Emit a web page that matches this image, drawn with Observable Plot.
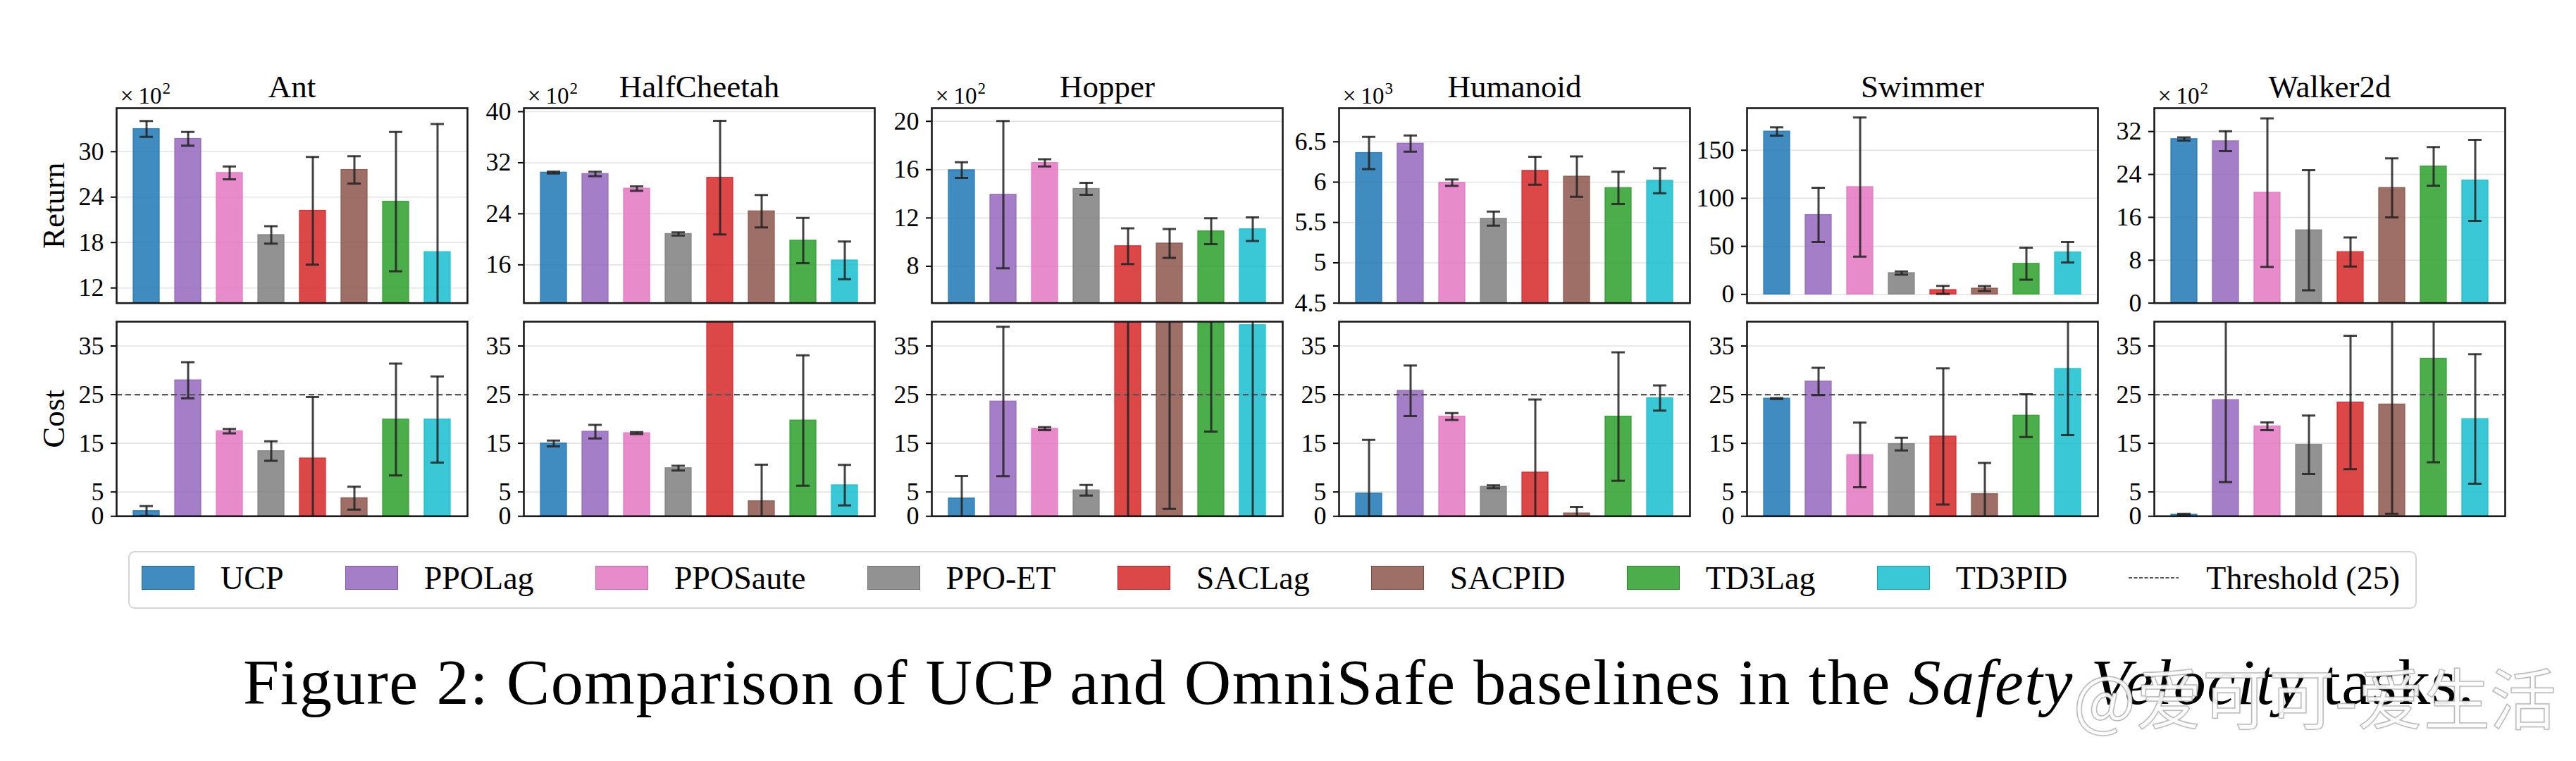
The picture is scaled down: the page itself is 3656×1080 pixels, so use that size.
<!DOCTYPE html>
<html>
<head>
<meta charset="utf-8">
<script src="https://cdn.jsdelivr.net/npm/d3@7"></script>
<script src="https://cdn.jsdelivr.net/npm/@observablehq/plot@0.6"></script>
<style>
  html, body { margin: 0; padding: 0; background: #fff; }
  #fig { position: relative; width: 3656px; height: 1080px; background: #fff; overflow: hidden; font-family: "Liberation Serif", serif; color: #000; }
  .panel { position: absolute; }
  .panel svg { overflow: visible; max-width: none; }
  #legend { position: absolute; box-sizing: border-box; border: 2px solid #d4d4d4; border-radius: 9px;
            display: flex; align-items: center; justify-content: space-between; padding: 0 22px 6px 17px; font-size: 46px; }
  .item { display: flex; align-items: center; gap: 37px; white-space: nowrap; }
  .sw { width: 75px; height: 34px; box-sizing: border-box; }
  #caption { position: absolute; left: 345px; top: 922px; font-size: 92px; letter-spacing: 1.6px; line-height: 1; white-space: nowrap; }
  #wm { position: absolute; right: 28px; top: 940px; font-family: "Noto Sans CJK SC", sans-serif; font-size: 94px; line-height: 1;
        color: rgba(255,255,255,0.92); -webkit-text-stroke: 1.5px rgba(140,140,140,0.55); text-shadow: 0 0 3px rgba(0,0,0,0.18); white-space: nowrap; }
</style>
</head>
<body>
<div id="fig"></div>
<script>
// ---------------- data ----------------
const methods = ["UCP", "PPOLag", "PPOSaute", "PPO-ET", "SACLag", "SACPID", "TD3Lag", "TD3PID"];
const colors  = ["#1f77b4", "#9467bd", "#e377c2", "#7f7f7f", "#d62728", "#8c564b", "#2ca02c", "#17becf"];
const envs    = ["Ant", "HalfCheetah", "Hopper", "Humanoid", "Swimmer", "Walker2d"];
const returnExponent = [2, 2, 2, 3, null, 2];   // axis multiplier ×10^n (none for Swimmer)

// Return (in the units shown on each axis)
const returnMean = [
  [33.0, 31.7, 27.2, 19.0, 22.2, 27.6, 23.4, 16.75],
  [30.47, 30.24, 27.95, 20.85, 29.65, 24.4, 19.8, 16.7],
  [15.96, 13.93, 16.56, 14.41, 9.67, 9.89, 10.9, 11.07],
  [6.362, 6.478, 5.993, 5.547, 6.141, 6.069, 5.928, 6.018],
  [169.5, 82.7, 111.7, 22.2, 4.6, 6.1, 31.9, 43.8],
  [30.6, 30.2, 20.6, 13.6, 9.54, 21.5, 25.5, 22.9]
];
const returnErr = [
  [1.05, 0.9, 0.85, 1.15, 7.1, 1.8, 9.2, 16.9],
  [0.15, 0.35, 0.35, 0.25, 8.9, 2.55, 3.55, 2.95],
  [0.65, 6.1, 0.3, 0.5, 1.48, 1.2, 1.07, 0.98],
  [0.2, 0.1, 0.04, 0.087, 0.174, 0.25, 0.2, 0.155],
  [4.3, 28.3, 72.4, 1.6, 4.2, 2.6, 16.7, 10.6],
  [0.3, 1.85, 13.85, 11.2, 2.7, 5.5, 3.6, 7.55]
];
const returnDomain = [[10, 35.75], [10, 40.55], [4.95, 21.09], [4.5, 6.917], [-9.1, 193.8], [0, 36.36]];
const returnTicks = [
  [12, 18, 24, 30],
  [16, 24, 32, 40],
  [8, 12, 16, 20],
  [4.5, 5, 5.5, 6, 6.5],
  [0, 50, 100, 150],
  [0, 8, 16, 24, 32]
];

// Cost
const costMean = [
  [1.08, 27.96, 17.5, 13.4, 11.9, 3.73, 19.9, 19.9],
  [14.97, 17.4, 17.1, 9.9, 70, 3.1, 19.7, 6.4],
  [3.67, 23.6, 18.0, 5.35, 55, 50, 45, 39.3],
  [4.69, 25.8, 20.5, 6.07, 9.0, 0.6, 20.5, 24.3],
  [24.2, 27.7, 12.6, 14.85, 16.4, 4.57, 20.7, 30.3],
  [0.36, 23.9, 18.5, 14.7, 23.4, 23.0, 32.4, 20.0]
];
const costErr = [
  [1.0, 3.7, 0.45, 2.0, 12.6, 2.35, 11.5, 8.85],
  [0.6, 1.4, 0.2, 0.5, 20, 7.5, 13.4, 4.15],
  [4.6, 15.35, 0.3, 1.1, 60, 48.5, 27.6, 45],
  [11.0, 5.2, 0.7, 0.3, 15.0, 1.3, 13.2, 2.6],
  [0.1, 2.8, 6.65, 1.3, 14.0, 6.4, 4.4, 13.6],
  [0.15, 16.9, 0.8, 6.0, 13.7, 22.5, 21.3, 13.3]
];
const costDomain = [0, 40];
const costTicks = [0, 5, 15, 25, 35];
const threshold = 25;
const thresholdLabel = "Threshold (25)";

// ---------------- layout ----------------
const FONT = "Liberation Serif";
const FW = 498, STEP = 578.4, LEFT0 = 165;
const ML = 120, MR = 10, MT = 60, MB = 28;
const rows = { ret: { top: 153.3, h: 276.7 }, cost: { top: 456, h: 276.2 } };

const fig = document.getElementById("fig");

function panel(i, kind) {
  const isRet = kind === "ret";
  const mean = isRet ? returnMean[i] : costMean[i];
  const err = isRet ? returnErr[i] : costErr[i];
  const data = methods.map((m, j) => ({ m, v: mean[j], lo: mean[j] - err[j], hi: mean[j] + err[j] }));
  const ticks = isRet ? returnTicks[i] : costTicks;
  const domain = isRet ? returnDomain[i] : costDomain;
  const FH = rows[kind].h;
  const ebar = { stroke: "#222", strokeOpacity: 0.85, strokeWidth: 3, clip: true };
  const marks = [
    Plot.gridY({ ticks, stroke: "#e3e3e3", strokeOpacity: 1, strokeWidth: 1.6 }),
    Plot.barY(data, { x: "m", y1: 0, y2: "v", fill: "m", fillOpacity: 0.85, stroke: "m", strokeOpacity: 0.9, strokeWidth: 1.3, clip: true }),
    !isRet ? Plot.ruleY([threshold], { stroke: "#555", strokeDasharray: "8,5", strokeWidth: 2.2 }) : null,
    Plot.ruleX(data, { x: "m", y1: "lo", y2: "hi", ...ebar }),
    Plot.tickY(data, { x: "m", y: "hi", insetLeft: 9, insetRight: 9, ...ebar }),
    Plot.tickY(data, { x: "m", y: "lo", insetLeft: 9, insetRight: 9, ...ebar }),
    Plot.axisY({ ticks, tickSize: 8, tickPadding: 10, tickFormat: d => String(d), strokeWidth: 2 }),
    Plot.frame({ stroke: "#1a1a1a", strokeWidth: 2.6 })
  ];
  if (isRet) {
    marks.push(Plot.text([envs[i]], { text: d => d, frameAnchor: "top", lineAnchor: "bottom", dy: -15, fontSize: 45 }));
    const e = returnExponent[i];
    if (e != null) {
      const base = { frameAnchor: "top-left", textAnchor: "start", lineAnchor: "bottom" };
      marks.push(Plot.text(["×"], { text: d => d, ...base, dx: 5, dy: -6.5, fontSize: 34 }));
      marks.push(Plot.text(["10"], { text: d => d, ...base, dx: 31, dy: -6.5, fontSize: 33 }));
      marks.push(Plot.text([String(e)], { text: d => d, ...base, dx: 65, dy: -20, fontSize: 23 }));
    }
  }
  if (i === 0) {
    marks.push(Plot.text([isRet ? "Return" : "Cost"], { text: d => d, frameAnchor: "left", rotate: -90, textAnchor: "middle", lineAnchor: "bottom", dx: -75, fontSize: 45 }));
  }
  const svg = Plot.plot({
    width: ML + FW + MR, height: MT + FH + MB,
    marginLeft: ML, marginRight: MR, marginTop: MT, marginBottom: MB,
    style: { background: "transparent", overflow: "visible", fontFamily: FONT, fontSize: "36px", color: "#000" },
    x: { domain: methods, axis: null, paddingInner: 0.37, paddingOuter: 0.4 },
    y: { domain, axis: null },
    color: { domain: methods, range: colors },
    marks
  });
  const div = document.createElement("div");
  div.className = "panel";
  div.style.left = (LEFT0 + i * STEP - ML) + "px";
  div.style.top = (rows[kind].top - MT) + "px";
  div.appendChild(svg);
  fig.appendChild(div);
}

envs.forEach((e, i) => { panel(i, "ret"); panel(i, "cost"); });

// ---------------- legend ----------------
const legend = document.createElement("div");
legend.id = "legend";
Object.assign(legend.style, { left: "182px", top: "782px", width: "3248px", height: "82px" });
methods.forEach((m, j) => {
  const it = document.createElement("div");
  it.className = "item";
  const c = d3.color(colors[j]);
  const sw = document.createElement("div");
  sw.className = "sw";
  sw.style.background = `rgba(${c.r},${c.g},${c.b},0.85)`;
  sw.style.border = `1.5px solid ${c.darker(0.4)}`;
  const t = document.createElement("span");
  t.textContent = m;
  it.appendChild(sw); it.appendChild(t);
  legend.appendChild(it);
});
{
  const it = document.createElement("div");
  it.className = "item";
  it.style.gap = "39px";
  it.innerHTML = `<svg width="71" height="10"><line x1="0" y1="5" x2="71" y2="5" stroke="#555" stroke-width="2" stroke-dasharray="5,2.5"/></svg>`;
  const t = document.createElement("span");
  t.textContent = thresholdLabel;
  it.appendChild(t);
  legend.appendChild(it);
}
fig.appendChild(legend);

// ---------------- caption ----------------
const cap = document.createElement("div");
cap.id = "caption";
cap.innerHTML = "Figure 2: Comparison of UCP and OmniSafe baselines in the <i>Safety Velocity</i> tasks.";
fig.appendChild(cap);

const wm = document.createElement("div");
wm.id = "wm";
wm.textContent = "@爱可可-爱生活";
fig.appendChild(wm);
</script>
</body>
</html>
